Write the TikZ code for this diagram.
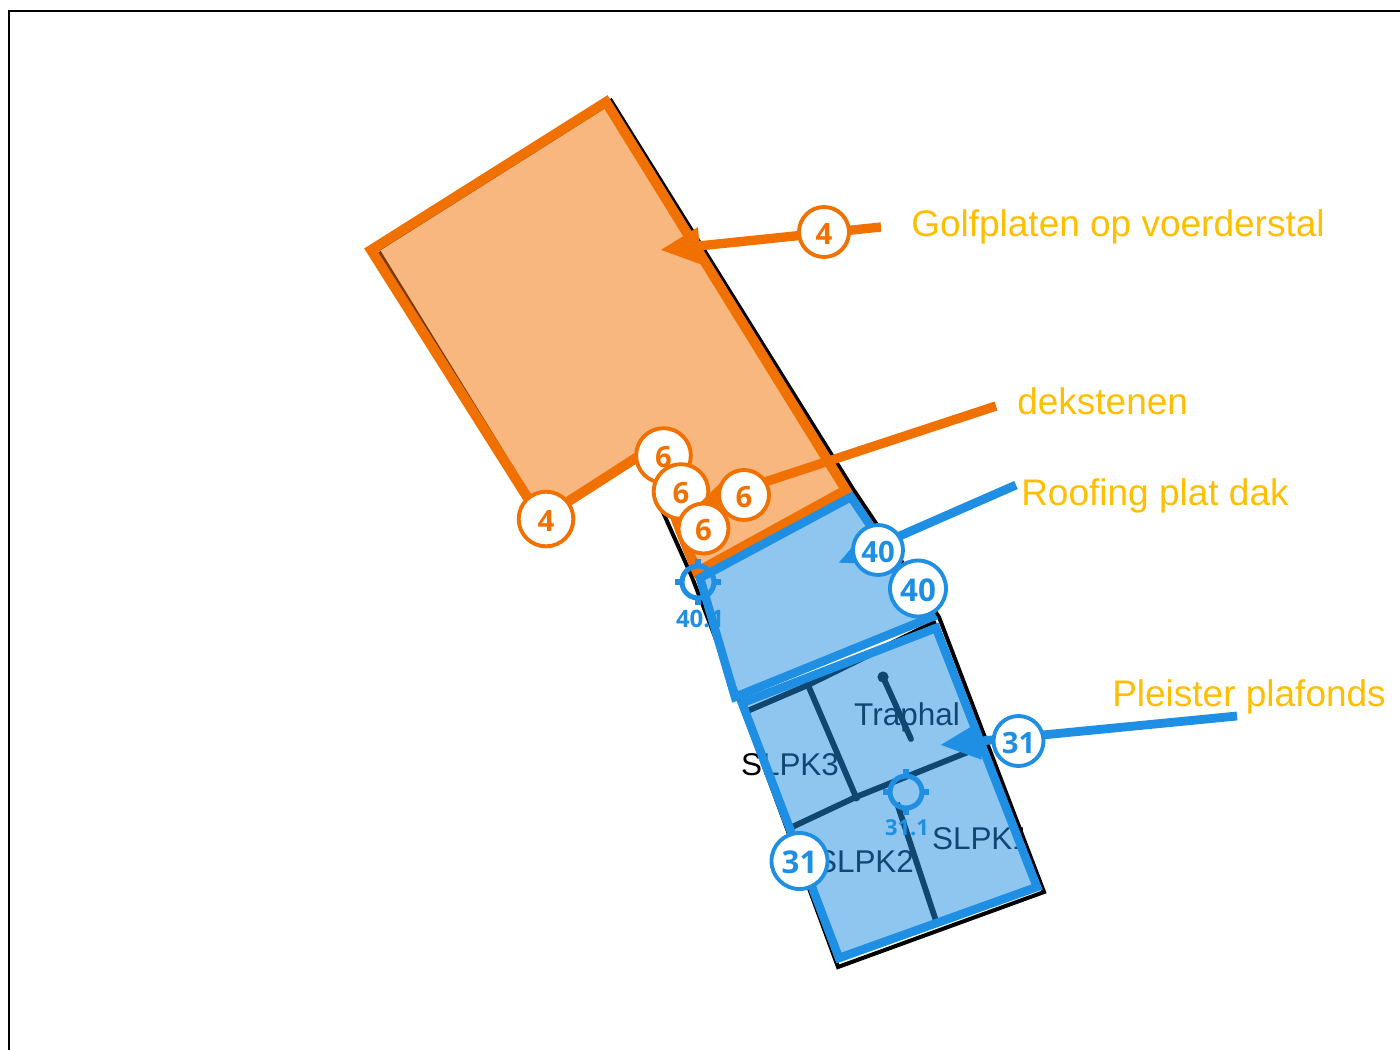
\documentclass[tikz,border=0pt]{standalone}
\usepackage{fontspec}
\setmainfont{Liberation Sans}
\newfontfamily\badgefont{Open Sans}[BoldFont={Open Sans Bold}]
\usetikzlibrary{arrows.meta,calc}
\definecolor{ora}{HTML}{F07000}
\definecolor{blu}{HTML}{1E8FE3}
\definecolor{yel}{HTML}{FFBF00}
\tikzset{
  x=0.75pt,y=-0.75pt,
  badge/.style={circle,fill=white,inner sep=0pt,line width=2.9pt,text height=18pt,text depth=0pt,font=\badgefont\bfseries\fontsize{22}{24}\selectfont},
  small/.style={badge,minimum size=37.5pt},
  big/.style={badge,minimum size=42pt,text height=19.2pt,font=\badgefont\bfseries\fontsize{23.5}{26}\selectfont},
  mid/.style={badge,minimum size=41pt},
  yellab/.style={text=yel,inner sep=0pt,anchor=base west,font=\fontsize{27.75}{32}\selectfont},
  room/.style={text=black,inner sep=0pt,anchor=base,font=\fontsize{23.6}{28}\selectfont},
  marklab/.style={text=blu,inner sep=0pt,font=\badgefont\bfseries\selectfont},
  blackline/.style={black,line width=4.4pt},
  edgeline/.style={black,line width=3pt,line join=miter},
  oraleader/.style={ora,line width=7pt,-{Triangle[length=30pt,width=26pt]}},
  bluleader/.style={blu,line width=6.6pt,-{Triangle[length=30pt,width=26pt]}},
  oraarea/.style={draw=ora,fill=ora,fill opacity=.5,line width=7.4pt,line join=miter},
  bluarea/.style={draw=blu,fill=blu,fill opacity=.5,line width=6.4pt,line join=miter},
  targetring/.style={draw=blu,line width=3.8pt},
}
\begin{document}
\begin{tikzpicture}
\useasboundingbox (0,0) rectangle (1400,1050);
\fill[white] (0,0) rectangle (1400,1050);
\draw[black,line width=1.9pt] (9,1050) -- (9,11) -- (1400,11);

% texts lying under the translucent areas
\node[room] (t3) at (790,775) {SLPK3};
\node[room] (t2) at (865,872) {SLPK2};
\node[room] (t1) at (981,849) {SLPK1};
\node[room] (tr) at (907,725) {Traphal};

% building outline below the areas
\draw[edgeline] (610,99) -- (853,489) -- (939,617) -- (1044,892) -- (838,967) -- (745,715) -- (692,577) -- (662,510);
\draw[edgeline] (379,252) -- (531,499);
\draw[edgeline,line width=2.2pt] (378,250) -- (606,106);
\draw[edgeline,line width=2.2pt] (568,499) -- (635,455);
\draw[blackline] (745,712) -- (808,685) -- (936,622);
\draw[blackline] (808,685) -- (856,797);
\draw[blackline] (790,828) -- (856,797) -- (968,752);
\draw[blackline,line cap=round] (883,677) -- (911,739);
\draw[blackline] (897,803) -- (936,921);
\fill[black] (883,677) circle (4.2pt);
\fill[black] (856,797) circle (3.4pt);
\fill[black] (808,685) circle (3.4pt);

% areas
\path[oraarea] (371,250) -- (606,102) -- (846,490) -- (697,572) -- (680,530) -- (650,449) -- (541,519) -- cycle;
\path[bluarea] (700,578) -- (851,497) -- (932,617) -- (735,697) -- cycle;
\path[bluarea] (742,703) -- (936,628) -- (1037,887) -- (839,958) -- cycle;

% target markers
\coordinate (m40) at (698,582);
\coordinate (m31) at (906,792);
\foreach \m in {m40,m31}{
  \draw[targetring] (\m) circle (12pt);
  \draw[targetring] ($(\m)+(-23,0)$) -- ($(\m)+(-14,0)$);
  \draw[targetring] ($(\m)+(23,0)$) -- ($(\m)+(14,0)$);
  \draw[targetring] ($(\m)+(0,-23)$) -- ($(\m)+(0,-14)$);
  \draw[targetring] ($(\m)+(0,23)$) -- ($(\m)+(0,14)$);
}
\node[marklab,font=\badgefont\bfseries\fontsize{18}{20}\selectfont] (l40) at (700,619) {40.1};
\node[marklab,font=\badgefont\bfseries\fontsize{16.5}{20}\selectfont] (l31) at (907,828) {31.1};

% leaders, badges
\coordinate (e4) at (881,227);   \coordinate (h4) at (660,250);
\coordinate (e6) at (996,406);   \coordinate (h6) at (698,504);
\coordinate (e40) at (1016,485); \coordinate (h40) at (838,563);
\coordinate (e31) at (1237,716); \coordinate (h31) at (940,745);

\draw[oraleader] (e4) -- (h4);
\node[small,draw=ora,text=ora] (b4a) at (824,232) {4};
\node[mid,draw=ora,text=ora] (b4b) at (546,519) {4};
\node[mid,draw=ora,text=ora] (b6a) at (663.5,455.5) {6};
\node[mid,draw=ora,text=ora] (b6b) at (681,491.5) {6};
\draw[oraleader] (e6) -- (h6);
\node[small,draw=ora,text=ora] (b6c) at (744,495) {6};
\node[small,draw=ora,text=ora] (b6d) at (703.5,528.5) {6};

\draw[bluleader] (e40) -- (h40);
\node[small,draw=blu,text=blu] (b40a) at (878,550) {40};
\node[big,draw=blu,text=blu] (b40b) at (918,588.5) {40};
\draw[bluleader] (e31) -- (h31);
\node[small,draw=blu,text=blu] (b31a) at (1018.5,741) {31};
\node[big,draw=blu,text=blu] (b31b) at (799.5,861) {31};

% captions
\node[yellab] (c1) at (911,236) {Golfplaten op voerderstal};
\node[yellab] (c2) at (1017,414) {dekstenen};
\node[yellab] (c3) at (1021,505) {Roofing plat dak};
\node[yellab] (c4) at (1112,706) {Pleister plafonds};
\end{tikzpicture}
\end{document}
